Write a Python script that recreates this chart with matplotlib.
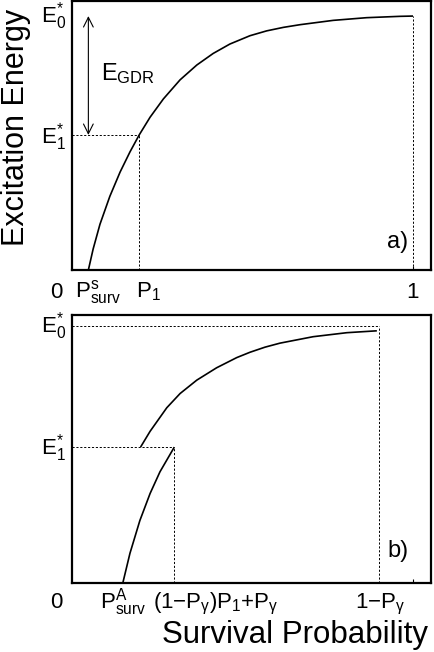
import matplotlib
matplotlib.use('Agg')
import matplotlib.pyplot as plt
from matplotlib.patches import FancyArrowPatch

plt.rcParams['font.family'] = ['Liberation Sans', 'DejaVu Sans']
plt.rcParams['mathtext.fontset'] = 'custom'
plt.rcParams['mathtext.rm'] = 'Liberation Sans'
plt.rcParams['mathtext.it'] = 'Liberation Sans'
plt.rcParams['mathtext.bf'] = 'Liberation Sans:bold'
plt.rcParams['mathtext.default'] = 'rm'

# ---------------- data (panel a) ----------------
E0_a = 0.944
E1_a = 0.502
P1_a = 0.197
Ps_surv = 0.048
ONE = 1.0
curve_a_x = [0.048, 0.062, 0.082, 0.111, 0.141, 0.170, 0.197, 0.229, 0.268, 0.317,
             0.366, 0.414, 0.463, 0.522, 0.571, 0.620, 0.669, 0.766, 0.864, 0.962, 1.000]
curve_a_y = [0.000, 0.078, 0.170, 0.274, 0.364, 0.439, 0.502, 0.568, 0.636, 0.707,
             0.762, 0.805, 0.840, 0.871, 0.889, 0.902, 0.912, 0.928, 0.938, 0.943, 0.944]

# ---------------- data (panel b) ----------------
E0_b = 0.959
E1_b = 0.507
P1_b = 0.300          # (1-Pg)P1+Pg
PA_surv = 0.149
one_minus_Pg = 0.900
lower_b_x = [0.149, 0.170, 0.199, 0.229, 0.258, 0.300]
lower_b_y = [0.000, 0.111, 0.233, 0.334, 0.415, 0.507]
upper_b_x = [0.201, 0.229, 0.278, 0.317, 0.366, 0.424, 0.483, 0.522, 0.566, 0.610, 0.707, 0.806, 0.894]
upper_b_y = [0.507, 0.566, 0.654, 0.707, 0.757, 0.803, 0.841, 0.861, 0.880, 0.895, 0.919, 0.934, 0.941]

XMAX = 1.0528

fig = plt.figure(figsize=(4.35, 6.52), dpi=100)
ax_a = fig.add_axes([72/435, (652-270)/652, 359/435, 269/652])
ax_b = fig.add_axes([72/435, (652-583)/652, 359/435, 268/652])

DASH = dict(color='black', lw=0.7, linestyle=(0, (2.2, 1.8)))
CURVE = dict(color='black', lw=1.2, solid_capstyle='butt', solid_joinstyle='round')
FS = 16

for ax in (ax_a, ax_b):
    ax.set_xlim(0, XMAX)
    ax.set_ylim(0, 1)
    ax.set_yticks([])
    ax.set_xticks([ONE])
    ax.set_xticklabels([])
    ax.tick_params(axis='x', direction='in', length=3, width=0.8)
    for s in ax.spines.values():
        s.set_linewidth(1.6)


def xlabel_at(ax, x, txt, dy, ha='left'):
    ax.annotate(txt, xy=(x, 0), xycoords=('data', 'axes fraction'),
                xytext=(0, dy), textcoords='offset points',
                ha=ha, va='baseline', fontsize=FS)


def ylabel_at(ax, y, txt, dy):
    ax.annotate(txt, xy=(-0.017, y), xycoords=('axes fraction', 'data'),
                xytext=(0, dy), textcoords='offset points',
                ha='right', va='baseline', fontsize=FS)

# ---------------- panel a ----------------
ax_a.plot(curve_a_x, curve_a_y, **CURVE)
ax_a.plot([0, P1_a], [E1_a, E1_a], **DASH)
ax_a.plot([P1_a, P1_a], [0, E1_a], **DASH)
ax_a.plot([ONE, ONE], [0, E0_a], **DASH)
arr = FancyArrowPatch((Ps_surv, E0_a), (Ps_surv, E1_a), arrowstyle='<->,head_length=7,head_width=3.5',
                      mutation_scale=1, lw=0.8, color='black', shrinkA=0, shrinkB=0)
ax_a.add_patch(arr)
ax_a.annotate(r'E$_{\mathrm{GDR}}$', xy=(Ps_surv, E1_a + (E0_a - E1_a) * 0.46),
              xycoords='data', xytext=(9, 0), textcoords='offset points',
              ha='left', va='baseline', fontsize=17)
ax_a.text(0.908, 0.104, 'a)', transform=ax_a.transAxes, ha='center', va='center', fontsize=17)

ylabel_at(ax_a, E0_a, r'E$^{*}_{0}$', -4.5)
ylabel_at(ax_a, E1_a, r'E$^{*}_{1}$', -6)
xlabel_at(ax_a, -0.047, '0', -20, ha='center')
xlabel_at(ax_a, 0.009, r'P$^{\mathrm{s}}_{\mathrm{surv}}$', -20)
xlabel_at(ax_a, 0.188, r'P$_{1}$', -20)
xlabel_at(ax_a, ONE, '1', -20, ha='center')

# ---------------- panel b ----------------
ax_b.plot(lower_b_x, lower_b_y, **CURVE)
ax_b.plot(upper_b_x, upper_b_y, **CURVE)
ax_b.plot([0, one_minus_Pg], [E0_b, E0_b], **DASH)
ax_b.plot([one_minus_Pg, one_minus_Pg], [0, E0_b], **DASH)
ax_b.plot([0, P1_b], [E1_b, E1_b], **DASH)
ax_b.plot([P1_b, P1_b], [0, E1_b], **DASH)
ax_b.text(0.908, 0.119, 'b)', transform=ax_b.transAxes, ha='center', va='center', fontsize=17)

ylabel_at(ax_b, E0_b, r'E$^{*}_{0}$', -5)
ylabel_at(ax_b, E1_b, r'E$^{*}_{1}$', -5)
xlabel_at(ax_b, -0.047, '0', -18, ha='center')
xlabel_at(ax_b, 0.082, r'P$^{\mathrm{A}}_{\mathrm{surv}}$', -18)
xlabel_at(ax_b, 0.238, r'(1−P$_{γ}$)P$_{1}$+P$_{γ}$', -18)
xlabel_at(ax_b, 0.830, r'1−P$_{γ}$', -18)

# axis titles
fig.text(1/435, (652-127)/652, 'Excitation Energy', rotation=90, fontsize=22,
         ha='left', va='center')
fig.text(428/435, (652-643)/652, 'Survival Probability', fontsize=22.5,
         ha='right', va='baseline')

fig.savefig('out.png', dpi=100, facecolor='white')
